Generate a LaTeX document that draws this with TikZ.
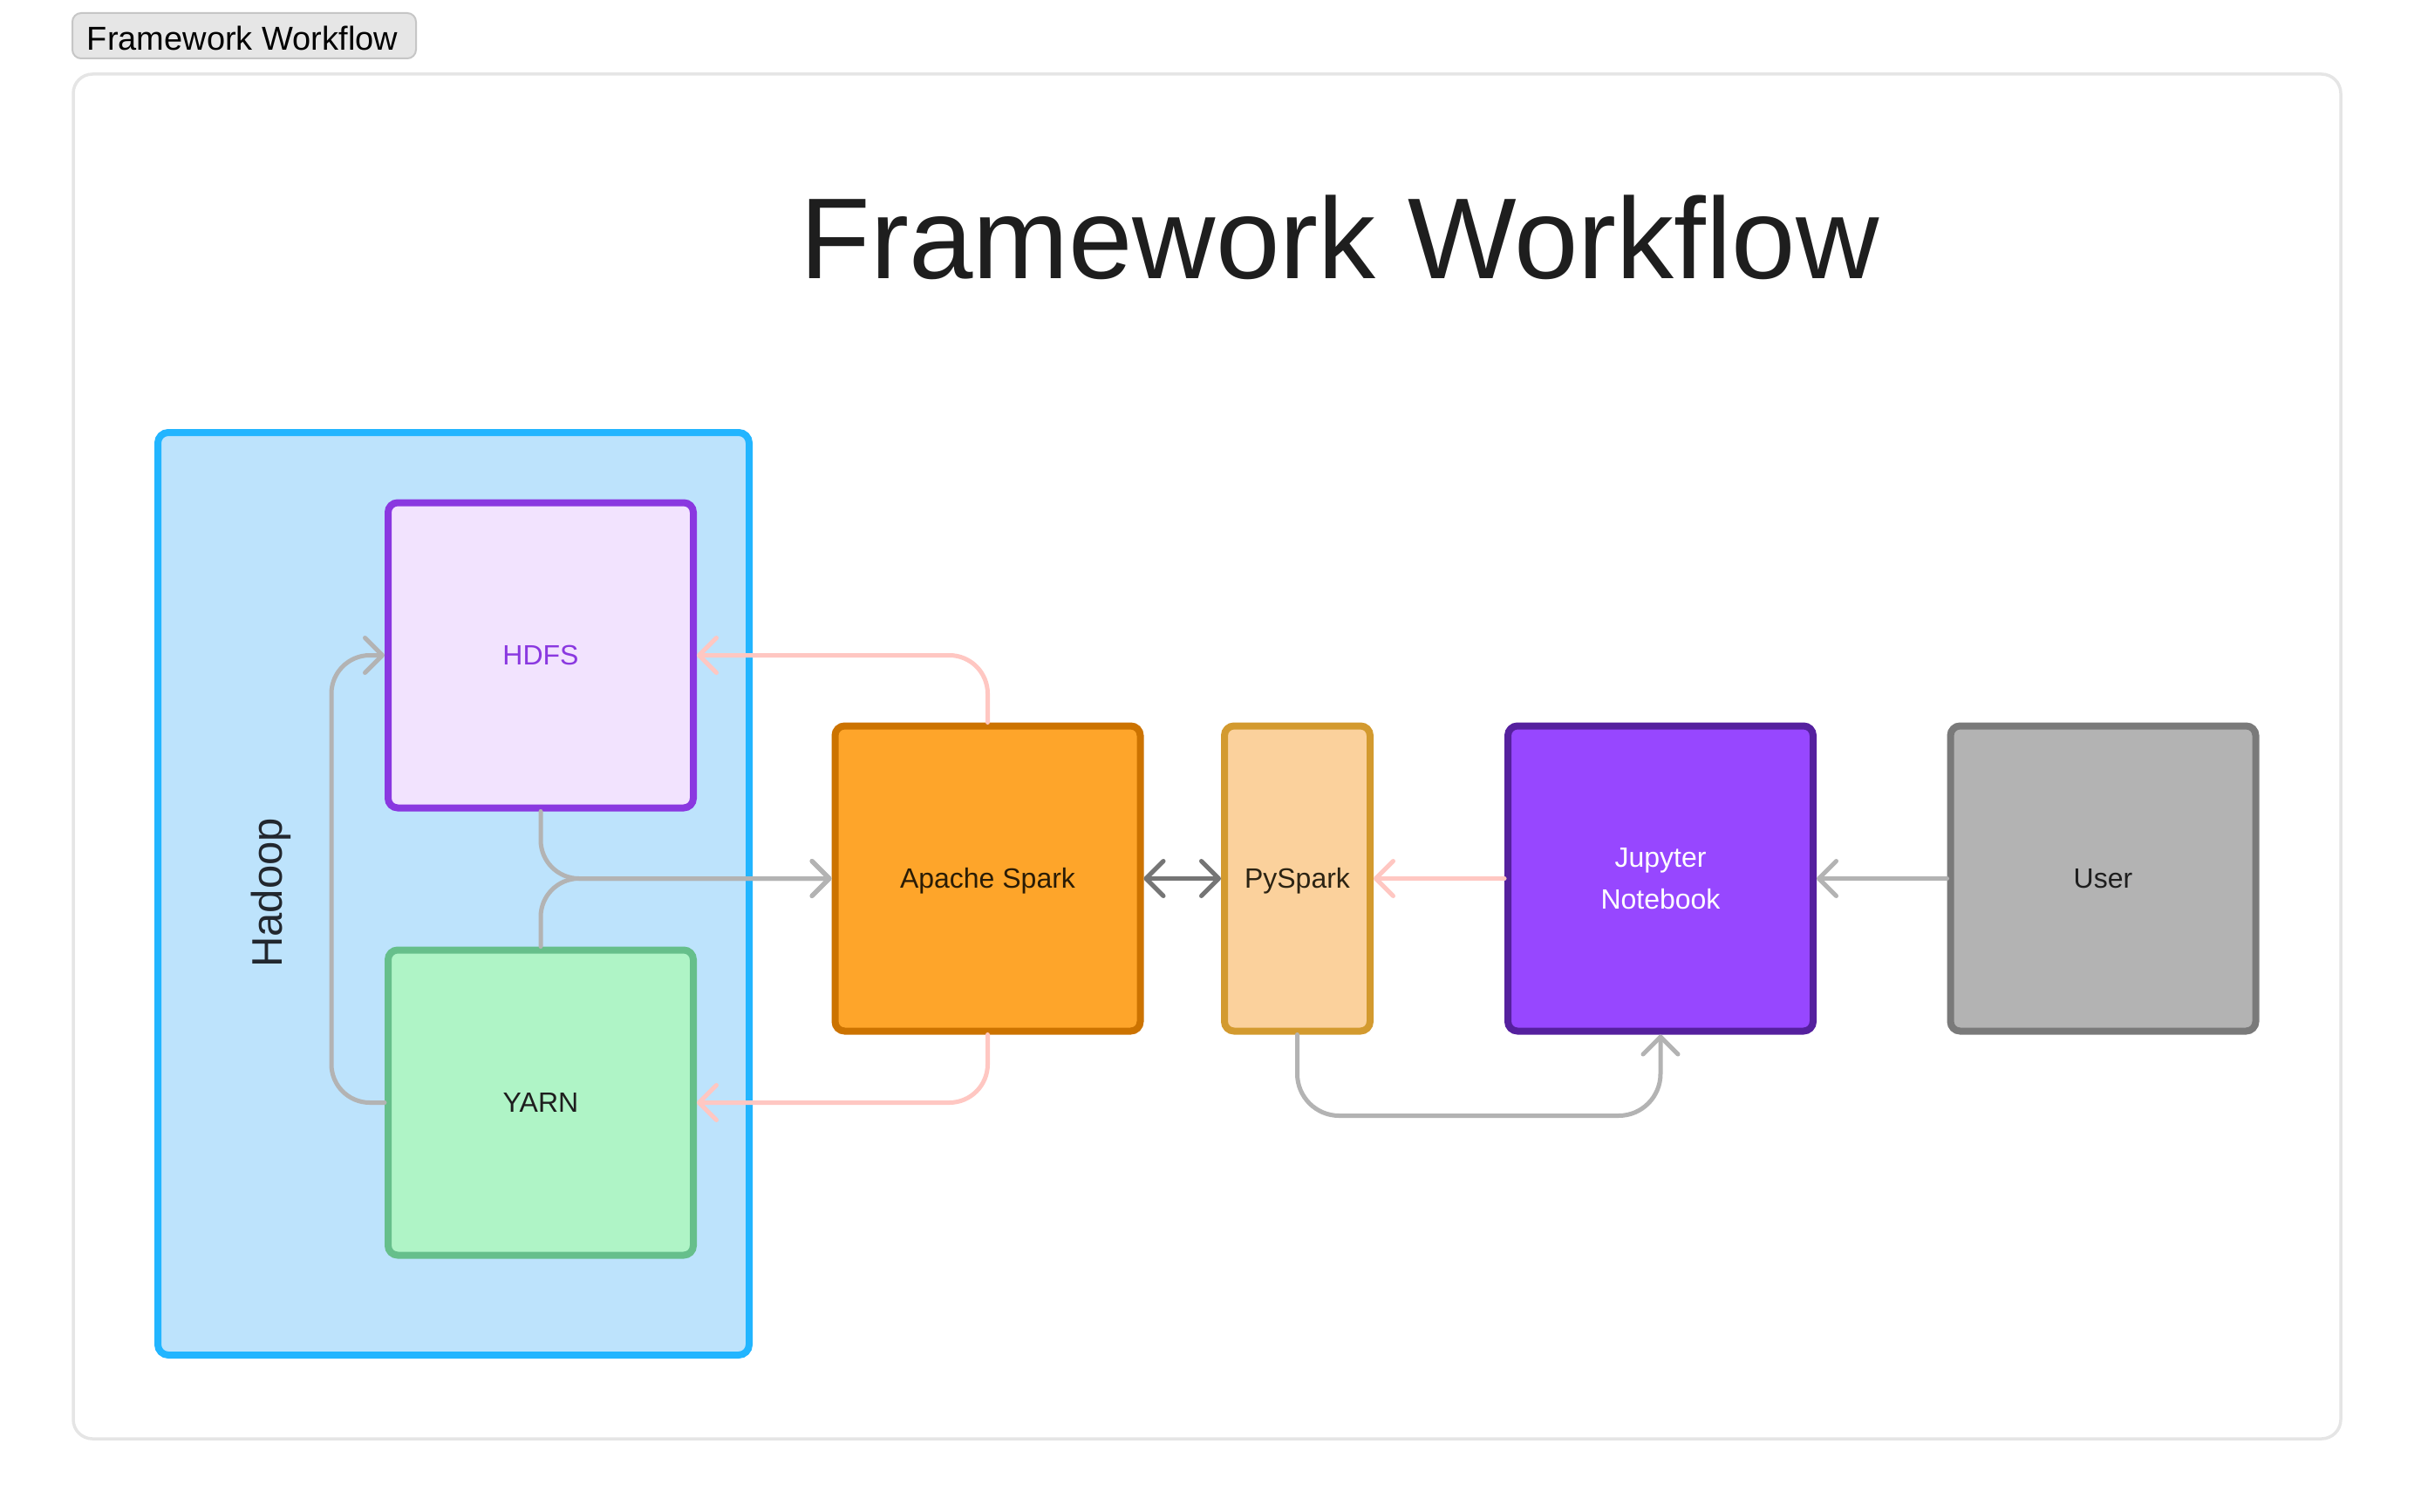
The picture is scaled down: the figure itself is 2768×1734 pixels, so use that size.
\documentclass[tikz,border=0pt]{standalone}
\usepackage{fontspec}
\setmainfont{Liberation Sans}
\usetikzlibrary{arrows.meta}
\definecolor{hadoopFill}{HTML}{BDE3FC}
\definecolor{hadoopDraw}{HTML}{22B5FF}
\definecolor{hadoopInk}{HTML}{22272E}
\definecolor{hdfsFill}{HTML}{F2E3FE}
\definecolor{hdfsDraw}{HTML}{8A38E0}
\definecolor{yarnFill}{HTML}{AFF4C6}
\definecolor{yarnDraw}{HTML}{66BF8B}
\definecolor{sparkFill}{HTML}{FEA52A}
\definecolor{sparkDraw}{HTML}{CC7300}
\definecolor{sparkInk}{HTML}{2A1C06}
\definecolor{pyFill}{HTML}{FBD19C}
\definecolor{pyDraw}{HTML}{D39A2F}
\definecolor{pyInk}{HTML}{2B2313}
\definecolor{jupFill}{HTML}{9747FF}
\definecolor{jupDraw}{HTML}{55209E}
\definecolor{userFill}{HTML}{B3B3B3}
\definecolor{userDraw}{HTML}{7A7A7A}
\definecolor{connGray}{HTML}{B3B3B3}
\definecolor{connPink}{HTML}{FFC7C2}
\definecolor{connDark}{HTML}{757575}
\definecolor{frameCol}{HTML}{E5E5E5}
\definecolor{tabFill}{HTML}{E6E6E6}
\definecolor{tabDraw}{HTML}{C6C6C6}
\definecolor{inkDark}{HTML}{1E1E1E}
\begin{document}
\begin{tikzpicture}[x=0.5pt,y=-0.5pt,
  box/.style={draw, line width=4pt, rounded corners=5.5pt, minimum width=175pt,
    minimum height=175pt, inner sep=0pt, font=\fontsize{16}{24}\selectfont,
    text height=11.4pt, text depth=0pt, text=inkDark},
  conn/.style={line width=2.5pt, line cap=round, rounded corners=22pt,
    >={Straight Barb[length=10pt,width=20pt,round]}},
]
\fill[white] (0,0) rectangle (2768,1734);
\useasboundingbox (0,0) rectangle (2768,1734);

% outer frame and tab
\node[draw=frameCol, line width=1.75pt, rounded corners=11pt, minimum width=1300pt,
  minimum height=782.5pt, inner sep=0pt] (frame) at (1384,867.5) {};
\node[draw=tabDraw, fill=tabFill, line width=1pt, rounded corners=5pt,
  minimum width=197pt, minimum height=26pt, inner sep=0pt] (tab) at (280,41) {};
\node[inner sep=0pt, font=\fontsize{19}{22}\selectfont, text=black,
  text height=13.6pt, text depth=0pt] (tabtext) at (278,44) {Framework Workflow};

% title
\node[anchor=base, inner sep=0pt, font=\fontsize{66}{78}\selectfont, text=inkDark]
  (title) at (1536,319) {Framework Workflow};

% Hadoop container
\node[draw=hadoopDraw, fill=hadoopFill, line width=4pt, rounded corners=6pt,
  minimum width=339pt, minimum height=529pt, inner sep=0pt] (hadoop) at (520,1025) {};
\node[rotate=90, inner sep=0pt, font=\fontsize{24.5}{30}\selectfont,
  text height=17.5pt, text depth=0pt, text=hadoopInk] (hadooplbl) at (305.5,1024) {Hadoop};

% boxes
\node[box, draw=hdfsDraw, fill=hdfsFill, text=hdfsDraw] (hdfs) at (620,751.5) {HDFS};
\node[box, draw=yarnDraw, fill=yarnFill] (yarn) at (620,1264.5) {YARN};
\node[box, draw=sparkDraw, fill=sparkFill, text=sparkInk] (spark) at (1132.5,1007.5) {Apache Spark};
\node[box, draw=pyDraw, fill=pyFill, minimum width=83.5pt, text=pyInk] (pyspark) at (1487.5,1007.5) {PySpark};
\node[box, draw=jupDraw, fill=jupFill, text=white, text height=35.4pt]
  (jupyter) at (1904,1007.5) {\begin{tabular}[b]{@{}c@{}}Jupyter\\Notebook\end{tabular}};
\node[box, draw=userDraw, fill=userFill] (user) at (2411.5,1007.5) {User};

% connectors
\draw[conn, connGray, ->] (hdfs.south) |- (spark.west);
\draw[conn, connGray, ->] (yarn.north) |- (spark.west);
\draw[conn, connGray, ->] (yarn.west) -| ([xshift=-30.5pt]hdfs.west) -- (hdfs.west);
\draw[conn, connPink, ->] (spark.north) |- (hdfs.east);
\draw[conn, connPink, ->] (spark.south) |- (yarn.east);
\draw[conn, connDark, <->] (spark.east) -- (pyspark.west);
\draw[conn, connPink, ->] (jupyter.west) -- (pyspark.east);
\draw[conn, connGray, ->] (user.west) -- (jupyter.east);
\draw[conn, connGray, ->, rounded corners=24pt] (pyspark.south) |- ([yshift=-46.5pt]jupyter.south) -- (jupyter.south);
\end{tikzpicture}
\end{document}
